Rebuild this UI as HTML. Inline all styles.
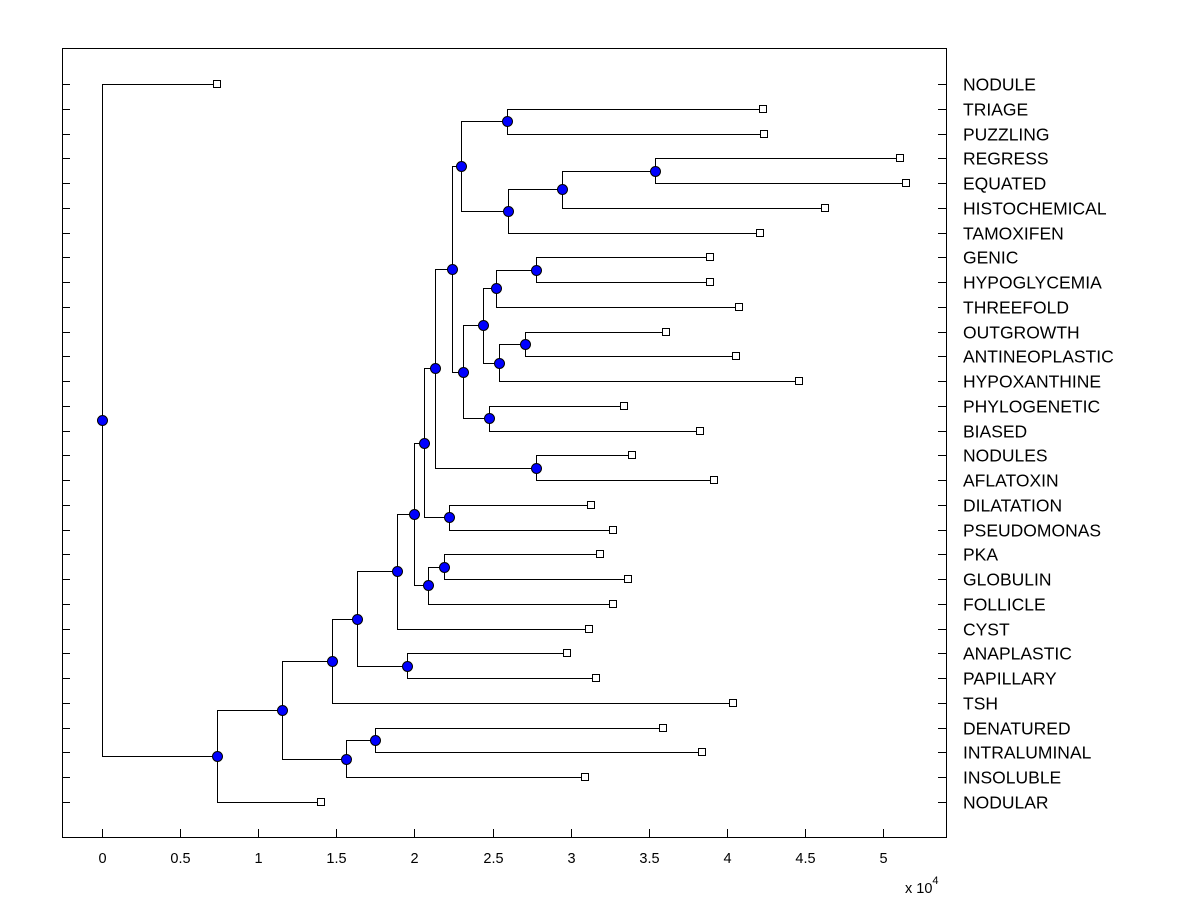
<!DOCTYPE html>
<html><head><meta charset="utf-8"><style>
body{margin:0;background:#fff;}
svg text{font-family:"Liberation Sans",Arial,sans-serif;}
</style></head><body>
<svg id="chart" width="1200" height="900" xmlns="http://www.w3.org/2000/svg">
<rect x="0" y="0" width="1200" height="900" fill="#fff"/>
<g id="marks"></g>
</svg>
<script>
const leafLabels=["NODULE","TRIAGE","PUZZLING","REGRESS","EQUATED","HISTOCHEMICAL","TAMOXIFEN","GENIC","HYPOGLYCEMIA","THREEFOLD","OUTGROWTH","ANTINEOPLASTIC","HYPOXANTHINE","PHYLOGENETIC","BIASED","NODULES","AFLATOXIN","DILATATION","PSEUDOMONAS","PKA","GLOBULIN","FOLLICLE","CYST","ANAPLASTIC","PAPILLARY","TSH","DENATURED","INTRALUMINAL","INSOLUBLE","NODULAR"];
const leafValues=[0.736,4.23,4.24,5.11,5.15,4.63,4.21,3.89,3.89,4.08,3.61,4.06,4.46,3.34,3.83,3.39,3.92,3.13,3.27,3.19,3.37,3.27,3.12,2.98,3.16,4.04,3.59,3.84,3.09,1.40];
const mergeLeft =[3,30,31,1,33,7,35,10,37,36,13,39,34,15,42,17,44,19,47,46,49,23,50,52,26,54,53,56,0];
const mergeRight=[4,5,6,2,32,8,9,11,12,38,14,40,41,16,43,18,45,20,21,48,22,24,51,25,27,28,55,29,57];
const mergeHeight=[3.54,2.945,2.60,2.59,2.30,2.78,2.52,2.71,2.54,2.44,2.48,2.31,2.24,2.78,2.13,2.22,2.06,2.19,2.09,2.00,1.89,1.95,1.63,1.47,1.75,1.56,1.15,0.736,0];
const xTicks=[0,0.5,1,1.5,2,2.5,3,3.5,4,4.5,5];
const xTickLabels=["0","0.5","1","1.5","2","2.5","3","3.5","4","4.5","5"];

const L=62,R=946,T=48,B=837;
const xs=v=>102+v*156.2;
const ys=i=>84+i*(718/29);
const NS="http://www.w3.org/2000/svg";
const g=document.getElementById('marks');
function el(tag,attrs,parent){const e=document.createElementNS(NS,tag);for(const k in attrs)e.setAttribute(k,attrs[k]);(parent||g).appendChild(e);return e;}

const box=el('rect',{x:L+0.5,y:T+0.5,width:R-L,height:B-T,fill:'none',stroke:'#000','stroke-width':1});



xTicks.forEach((t,i)=>{
  const x=Math.round(xs(t))+0.5;
  const tk=el('line',{x1:x,x2:x,y1:B,y2:B-8,stroke:'#000'});
  
  
  const tx=el('text',{x:x,y:863,'text-anchor':'middle','font-size':14.5});
  tx.textContent=xTickLabels[i];
  
  
});
const ex=el('text',{x:905,y:893,'font-size':14.5});
ex.innerHTML='x 10<tspan dy="-9" font-size="11">4</tspan>';



leafLabels.forEach((lab,i)=>{
  const y=Math.round(ys(i))+0.5;
  const a=el('line',{x1:L,x2:L+8,y1:y,y2:y,stroke:'#000'});
  
  
  const b=el('line',{x1:R-8,x2:R,y1:y,y2:y,stroke:'#000'});
  
  
  const t=el('text',{x:963,y:y+6,'font-size':17.5});
  t.textContent=lab;
  
  
});

const nx=[],ny=[];
leafValues.forEach((v,i)=>{nx[i]=xs(v);ny[i]=ys(i);});
mergeHeight.forEach((h,k)=>{const id=30+k;nx[id]=xs(h);ny[id]=(ny[mergeLeft[k]]+ny[mergeRight[k]])/2;});

const lines=el('g',{});
mergeHeight.forEach((h,k)=>{
  const id=30+k,px=Math.round(nx[id])+0.5;
  [mergeLeft[k],mergeRight[k]].forEach(c=>{
    const cy=Math.round(ny[c])+0.5;
    const ln=el('polyline',{points:`${px},${Math.round(ny[id])+0.5} ${px},${cy} ${Math.round(nx[c])+0.5},${cy}`,fill:'none',stroke:'#000','stroke-width':1},lines);
    
    
  });
});
leafValues.forEach((v,i)=>{
  const s=el('rect',{x:Math.round(nx[i])-3.5,y:Math.round(ny[i])-3.5,width:7,height:7,fill:'#fff',stroke:'#000'});
  
  
});
mergeHeight.forEach((h,k)=>{
  const id=30+k;
  const c=el('circle',{cx:Math.round(nx[id])+0.5,cy:Math.round(ny[id])+0.5,r:5,fill:'#0000ff',stroke:'#000'});
  
  
});
</script>
</body></html>
